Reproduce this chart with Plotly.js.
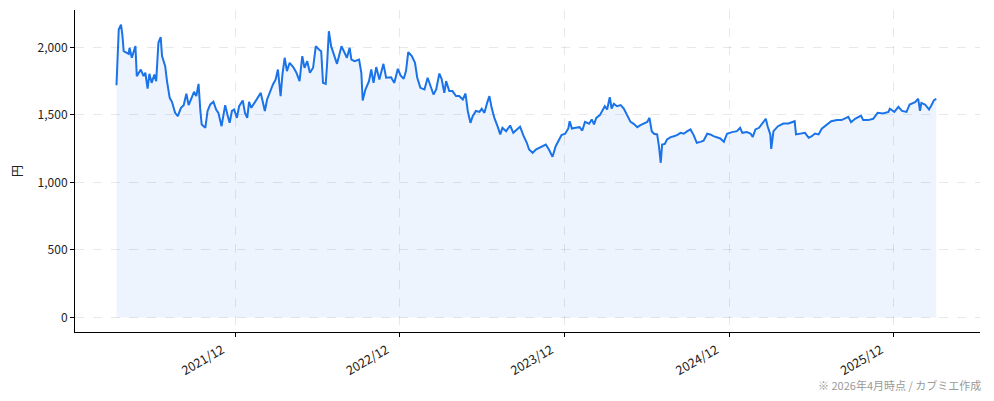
<!DOCTYPE html>
<html>
<head>
<meta charset="utf-8">
<script src="https://cdn.plot.ly/plotly-3.0.1.min.js"></script>
<style>
  body { margin: 0; background: #fff; }
  #chart { width: 994px; height: 401px; }
</style>
</head>
<body>
<div id="chart"></div>
<script>
// 株価の推移 (読み取り値)
let dates = [
  "2021-03-13", "2021-03-15", "2021-03-18", "2021-03-23", "2021-03-26", "2021-03-29", "2021-04-09", "2021-04-11",
  "2021-04-16", "2021-04-24", "2021-04-27", "2021-05-06", "2021-05-12", "2021-05-16", "2021-05-21", "2021-05-25",
  "2021-05-30", "2021-06-05", "2021-06-09", "2021-06-14", "2021-06-19", "2021-06-22", "2021-06-29", "2021-07-03",
  "2021-07-09", "2021-07-14", "2021-07-21", "2021-07-27", "2021-08-03", "2021-08-09", "2021-08-15", "2021-08-20",
  "2021-08-27", "2021-09-01", "2021-09-06", "2021-09-11", "2021-09-15", "2021-09-18", "2021-09-26", "2021-10-01",
  "2021-10-07", "2021-10-14", "2021-10-20", "2021-10-25", "2021-11-01", "2021-11-09", "2021-11-14", "2021-11-19",
  "2021-11-24", "2021-11-29", "2021-12-05", "2021-12-10", "2021-12-18", "2021-12-23", "2021-12-28",
  "2022-01-01", "2022-01-06", "2022-01-14", "2022-01-21", "2022-01-27", "2022-01-31", "2022-02-05", "2022-02-10",
  "2022-02-16", "2022-02-23", "2022-03-01", "2022-03-06", "2022-03-12", "2022-03-16", "2022-03-21", "2022-03-26",
  "2022-04-01", "2022-04-09", "2022-04-16", "2022-04-23", "2022-04-29", "2022-05-04", "2022-05-10", "2022-05-16",
  "2022-05-23", "2022-05-29", "2022-06-05", "2022-06-10", "2022-06-14", "2022-06-20", "2022-06-23", "2022-06-27",
  "2022-07-02", "2022-07-08", "2022-07-15", "2022-07-25", "2022-08-01", "2022-08-06", "2022-08-12", "2022-08-16",
  "2022-08-23", "2022-09-02", "2022-09-07", "2022-09-10", "2022-09-16", "2022-09-24", "2022-09-29", "2022-10-04",
  "2022-10-10", "2022-10-17", "2022-10-26", "2022-11-01", "2022-11-12", "2022-11-19", "2022-11-27", "2022-12-03",
  "2022-12-10", "2022-12-15", "2022-12-20", "2022-12-28",
  "2023-01-04", "2023-01-09", "2023-01-16", "2023-01-25", "2023-02-01", "2023-02-07", "2023-02-14", "2023-02-20",
  "2023-02-27", "2023-03-04", "2023-03-10", "2023-03-14", "2023-03-21", "2023-03-28", "2023-04-05", "2023-04-12",
  "2023-04-20", "2023-04-26", "2023-05-01", "2023-05-07", "2023-05-12", "2023-05-19", "2023-05-27", "2023-06-01",
  "2023-06-07", "2023-06-13", "2023-06-18", "2023-06-23", "2023-06-29", "2023-07-06", "2023-07-12", "2023-07-17",
  "2023-07-25", "2023-08-03", "2023-08-10", "2023-08-18", "2023-08-25", "2023-09-02", "2023-09-09", "2023-09-14",
  "2023-09-22", "2023-09-29", "2023-10-06", "2023-10-14", "2023-10-21", "2023-10-28", "2023-11-05", "2023-11-12",
  "2023-11-19", "2023-11-25", "2023-12-03", "2023-12-10", "2023-12-13", "2023-12-18", "2023-12-26",
  "2024-01-04", "2024-01-10", "2024-01-16", "2024-01-25", "2024-01-31", "2024-02-05", "2024-02-10", "2024-02-18",
  "2024-02-23", "2024-02-29", "2024-03-05", "2024-03-11", "2024-03-15", "2024-03-20", "2024-03-27", "2024-04-04",
  "2024-04-11", "2024-04-19", "2024-04-26", "2024-05-03", "2024-05-11", "2024-05-18", "2024-05-26", "2024-06-02",
  "2024-06-07", "2024-06-12", "2024-06-17", "2024-06-24", "2024-06-28", "2024-07-02", "2024-07-05", "2024-07-11",
  "2024-07-16", "2024-07-24", "2024-07-31", "2024-08-07", "2024-08-15", "2024-08-22", "2024-08-30", "2024-09-06",
  "2024-09-13", "2024-09-20", "2024-09-28", "2024-10-05", "2024-10-13", "2024-10-20", "2024-10-27", "2024-11-04",
  "2024-11-11", "2024-11-19", "2024-11-26", "2024-12-07", "2024-12-18", "2024-12-25", "2024-12-30",
  "2025-01-09", "2025-01-17", "2025-01-22", "2025-01-28", "2025-02-05", "2025-02-13", "2025-02-20", "2025-02-24",
  "2025-03-02", "2025-03-04", "2025-03-09", "2025-03-19", "2025-03-31", "2025-04-11", "2025-04-22", "2025-04-25",
  "2025-04-28", "2025-05-07", "2025-05-18", "2025-05-26", "2025-06-02", "2025-06-09", "2025-06-17", "2025-06-24",
  "2025-07-02", "2025-07-15", "2025-07-28", "2025-08-07", "2025-08-22", "2025-08-28", "2025-09-06", "2025-09-19",
  "2025-09-24", "2025-10-05", "2025-10-16", "2025-10-26", "2025-11-07", "2025-11-19", "2025-11-22", "2025-12-02",
  "2025-12-11", "2025-12-19", "2025-12-29",
  "2026-01-05", "2026-01-17", "2026-01-24", "2026-01-28", "2026-01-31", "2026-02-08", "2026-02-17", "2026-02-22",
  "2026-02-28", "2026-03-05"
];
let prices = [
  1721, 1924, 2133, 2170, 2096, 1973, 1953, 1998,
  1924, 2010, 1788, 1837, 1788, 1813, 1696, 1805,
  1738, 1800, 1751, 2035, 2077, 1936, 1862, 1751,
  1627, 1598, 1516, 1491, 1553, 1573, 1657, 1573,
  1632, 1672, 1640, 1731, 1530, 1430, 1405, 1530,
  1578, 1598, 1541, 1516, 1417, 1573, 1504, 1442,
  1530, 1541, 1479, 1565, 1607, 1516, 1479,
  1598, 1553, 1598, 1640, 1664, 1604, 1530, 1615,
  1672, 1726, 1763, 1837, 1640, 1800, 1924, 1825,
  1887, 1855, 1813, 1751, 1936, 1850, 1899, 1813,
  1850, 2010, 1985, 1973, 1738, 1731, 1874, 2121,
  2010, 1948, 1879, 2010, 1961, 1924, 1998, 1911,
  1899, 1911, 1813, 1607, 1689, 1751, 1837, 1738,
  1855, 1763, 1879, 1776, 1780, 1738, 1842, 1793,
  1768, 1825, 1965, 1936,
  1887, 1776, 1701, 1689, 1776, 1714, 1652, 1689,
  1807, 1768, 1664, 1751, 1677, 1677, 1640, 1640,
  1615, 1659, 1530, 1442, 1491, 1530, 1523, 1546,
  1516, 1590, 1640, 1553, 1479, 1417, 1356, 1405,
  1380, 1422, 1368, 1393, 1413, 1343, 1294, 1244,
  1220, 1244, 1257, 1269, 1281, 1244, 1190, 1269,
  1310, 1351, 1361, 1400, 1454, 1400, 1405,
  1410, 1385, 1449, 1435, 1467, 1430, 1479, 1499,
  1530, 1565, 1541, 1632, 1548, 1583, 1565, 1573,
  1548, 1491, 1449, 1435, 1410, 1425, 1435, 1449,
  1479, 1380, 1361, 1356, 1269, 1146, 1281, 1286,
  1319, 1336, 1343, 1351, 1368, 1361, 1380, 1393,
  1351, 1294, 1301, 1309, 1361, 1356, 1343, 1336,
  1326, 1301, 1361, 1373, 1380, 1405, 1368,
  1373, 1363, 1338, 1393, 1405, 1437, 1472, 1417,
  1356, 1249, 1380, 1417, 1437, 1437, 1447, 1454,
  1356, 1363, 1368, 1331, 1343, 1363, 1356, 1398,
  1422, 1454, 1462, 1462, 1486, 1447, 1472, 1496,
  1462, 1462, 1472, 1516, 1511, 1523, 1546, 1523,
  1560, 1530, 1523,
  1578, 1595, 1620, 1530, 1590, 1578, 1541, 1570,
  1610, 1620
];
let tick_dates = ["2021-12-01", "2022-12-01", "2023-12-01", "2024-12-01", "2025-12-01"];
let tick_labels = ["2021/12", "2022/12", "2023/12", "2024/12", "2025/12"];
let y_ticks = [0, 500, 1000, 1500, 2000];
let y_labels = ["0", "500", "1,000", "1,500", "2,000"];
let note_text = "※ 2026年4月時点 / カブミエ作成";

let chart_holder = document.querySelector("#chart");
let font_family = "'Noto Sans CJK JP', 'Noto Sans', sans-serif";

let trace = {
    x: dates,
    y: prices,
    type: "scatter",
    mode: "lines",
    line: { color: "#1a73e8", width: 2 },
    fill: "tozeroy",
    fillcolor: "rgba(26,115,232,0.08)",
    hoverinfo: "skip"
};

let layout = {
    width: 994,
    height: 401,
    margin: { l: 75, r: 14, t: 10, b: 69 },
    paper_bgcolor: "#fff",
    plot_bgcolor: "#fff",
    showlegend: false,
    font: { family: font_family, size: 12, color: "#222" },
    xaxis: {
        type: "date",
        range: ["2020-12-11", "2026-06-10"],
        tickvals: tick_dates,
        ticktext: tick_labels,
        tickangle: -30,
        ticklabelshift: -13,
        ticklabelstandoff: 1,
        ticks: "outside",
        ticklen: 4,
        tickcolor: "#000",
        showline: true,
        linecolor: "#000",
        linewidth: 1,
        showgrid: true,
        gridcolor: "rgba(0,0,0,0.09)",
        griddash: "dash",
        zeroline: false,
        tickfont: { size: 12.5, color: "#222" }
    },
    yaxis: {
        range: [-108, 2278],
        tickvals: y_ticks,
        ticktext: y_labels,
        ticks: "outside",
        ticklen: 4,
        tickcolor: "#000",
        showline: true,
        linecolor: "#000",
        linewidth: 1,
        showgrid: true,
        gridcolor: "rgba(0,0,0,0.09)",
        griddash: "dash",
        zeroline: false,
        title: { text: "円", standoff: 12, font: { size: 12, color: "#222" } },
        tickfont: { size: 12, color: "#222" }
    },
    annotations: [{
        text: note_text,
        xref: "paper", yref: "paper",
        x: 1.0033, y: -0.1646,
        xanchor: "right", yanchor: "middle",
        showarrow: false,
        font: { size: 11, color: "#999" }
    }]
};

Plotly.newPlot(chart_holder, [trace], layout, { staticPlot: true, displayModeBar: false });
</script>
</body>
</html>
